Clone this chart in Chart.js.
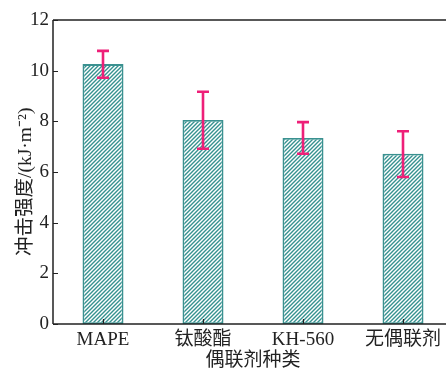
<!DOCTYPE html>
<html><head><meta charset="utf-8">
<script src="https://cdn.jsdelivr.net/npm/chart.js@4.4.1/dist/chart.umd.min.js"></script>
<style>
html,body{margin:0;padding:0;background:#fff;overflow:hidden;}
#wrap{width:462px;height:370px;position:relative;}
</style></head>
<body>
<div id="wrap"><canvas id="c" width="462" height="370"></canvas></div>
<script>
const categories = ['MAPE', '钛酸酯', 'KH-560', '无偶联剂'];
const values = [10.26, 8.05, 7.34, 6.72];
const errUpper = [10.78, 9.17, 7.97, 7.61];
const errLower = [9.72, 6.92, 6.72, 5.80];
const yTicks = [0, 2, 4, 6, 8, 10, 12];

const FONT = '"Liberation Serif", "Noto Sans CJK SC", serif';

function hatch() {
  const s = 4;
  const p = document.createElement('canvas');
  p.width = s; p.height = s;
  const g = p.getContext('2d');
  g.fillStyle = '#ffffff';
  g.fillRect(0, 0, s, s);
  g.strokeStyle = '#35918f';
  g.lineWidth = 1.4;
  g.beginPath();
  g.moveTo(-1, s + 1); g.lineTo(s + 1, -1);
  g.moveTo(-1, 1); g.lineTo(1, -1);
  g.moveTo(s - 1, s + 1); g.lineTo(s + 1, s - 1);
  g.stroke();
  return document.getElementById('c').getContext('2d').createPattern(p, 'repeat');
}

const framePlugin = {
  id: 'frame',
  afterDatasetsDraw(chart) {
    const ctx = chart.ctx, a = chart.chartArea;
    const x = chart.scales.x, y = chart.scales.y;
    ctx.save();
    ctx.strokeStyle = '#222';
    ctx.lineWidth = 1.5;
    ctx.beginPath();
    ctx.moveTo(a.left, a.top); ctx.lineTo(a.right, a.top);
    ctx.moveTo(a.left, a.top); ctx.lineTo(a.left, a.bottom);
    ctx.moveTo(a.left, a.bottom); ctx.lineTo(a.right, a.bottom);
    ctx.stroke();
    ctx.lineWidth = 1.2;
    ctx.beginPath();
    yTicks.forEach(v => {
      const py = Math.round(y.getPixelForValue(v)) + 0.5;
      ctx.moveTo(a.left, py); ctx.lineTo(a.left + 5, py);
    });
    categories.forEach((c, i) => {
      const px = Math.round(x.getPixelForValue(i)) + 0.5;
      ctx.moveTo(px, a.bottom); ctx.lineTo(px, a.bottom - 5);
    });
    ctx.stroke();
    // error bars
    ctx.strokeStyle = '#ee1f78';
    ctx.lineWidth = 2.6;
    ctx.beginPath();
    categories.forEach((c, i) => {
      const px = x.getPixelForValue(i);
      const yt = y.getPixelForValue(errUpper[i]);
      const yb = y.getPixelForValue(errLower[i]);
      ctx.moveTo(px, yt); ctx.lineTo(px, yb);
      ctx.moveTo(px - 6, yt); ctx.lineTo(px + 6, yt);
      ctx.moveTo(px - 6, yb); ctx.lineTo(px + 6, yb);
    });
    ctx.stroke();
    ctx.restore();
  }
};

new Chart(document.getElementById('c'), {
  type: 'bar',
  data: {
    labels: categories,
    datasets: [{
      data: values,
      backgroundColor: hatch(),
      borderColor: '#3a9190',
      borderWidth: 1.8,
      borderSkipped: false,
      barPercentage: 0.41,
      categoryPercentage: 1.0
    }]
  },
  options: {
    responsive: false,
    animation: false,
    devicePixelRatio: 1,
    layout: { padding: { top: 20, right: 9, left: 2, bottom: 0 } },
    plugins: { legend: { display: false }, tooltip: { enabled: false } },
    scales: {
      x: {
        offset: true,
        afterFit(s) { s.height = 46; },
        grid: { display: false, drawTicks: false },
        border: { display: false },
        ticks: { color: '#222', font: { family: FONT, size: 19 }, padding: 5 },
        title: { display: true, text: '偶联剂种类', color: '#222', font: { family: FONT, size: 19 }, padding: { top: 0, bottom: -2 } }
      },
      y: {
        min: 0, max: 12,
        afterBuildTicks(s) { s.ticks = yTicks.map(v => ({ value: v })); },
        afterFit(s) { s.width = 51; },
        grid: { display: false, drawTicks: false },
        border: { display: false },
        ticks: { color: '#222', font: { family: FONT, size: 19 }, padding: 4 },
        title: { display: true, text: '冲击强度/(kJ·m⁻²)\u00a0\u00a0\u00a0\u00a0', color: '#222', font: { family: FONT, size: 19.5 }, padding: { top: 12, bottom: 0 } }
      }
    }
  },
  plugins: [framePlugin]
});
</script>
</body></html>
